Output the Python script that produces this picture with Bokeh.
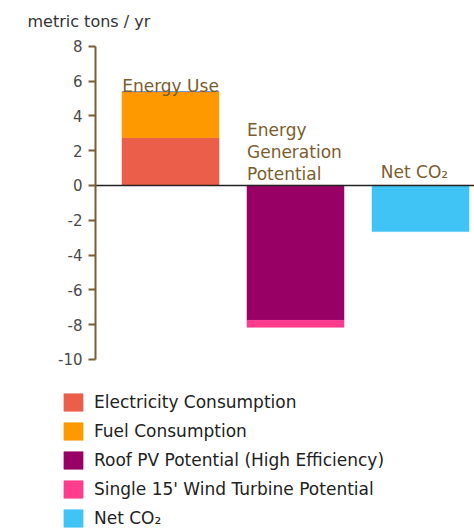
from bokeh.plotting import figure
from bokeh.models import (Range1d, FixedTicker, Legend, LegendItem, Label,
                          ColumnDataSource, PrintfTickFormatter)
from bokeh.core.properties import value
from bokeh.embed import file_html
from bokeh.resources import INLINE

# ---- data ----
groups = ["Energy Use", "Energy\nGeneration\nPotential", "Net CO\u2082"]
group_x = [1, 2, 3]
electricity = [2.75, 0, 0]
fuel = [2.65, 0, 0]
roof_pv = [0, -7.75, 0]
wind = [0, -0.4, 0]
net_co2 = [0, 0, -2.65]
series_names = ["Electricity Consumption", "Fuel Consumption",
                "Roof PV Potential (High Efficiency)",
                "Single 15' Wind Turbine Potential", "Net CO\u2082"]
series_colors = ["#EA5E4A", "#FF9900", "#990066", "#FF3C8E", "#40C4F5"]
y_ticks = [-10, -8, -6, -4, -2, 0, 2, 4, 6, 8]
y_title = "metric tons / yr"

FONT = "DejaVu Sans"
BROWN = "#7B5D2E"
AXIS_X = 0.4

p = figure(width=474, height=530, output_backend="svg", toolbar_location=None,
           x_range=Range1d(-0.36, 3.432), y_range=Range1d(-19.828, 10.632),
           x_axis_location=None, min_border_left=0, min_border_top=0,
           min_border_bottom=0, min_border_right=0)
p.grid.visible = False
p.outline_line_color = None

# stacked bars
bw = 0.776
stack = [electricity, fuel, roof_pv, wind, net_co2]
pos_base = [0.0] * 3
neg_base = [0.0] * 3
renderers = []
for vals, col in zip(stack, series_colors):
    bottoms, tops = [], []
    for i, v in enumerate(vals):
        if v >= 0:
            bottoms.append(pos_base[i]); tops.append(pos_base[i] + v)
            pos_base[i] += v
        else:
            bottoms.append(neg_base[i]); tops.append(neg_base[i] + v)
            neg_base[i] += v
    src = ColumnDataSource(dict(x=group_x, bottom=bottoms, top=tops))
    r = p.vbar(x="x", bottom="bottom", top="top", width=bw, source=src,
               fill_color=col, line_color=col, line_alpha=0.5)
    renderers.append(r)

# zero line from the axis to the right
p.ray(x=[AXIS_X], y=[0], length=0, angle=0, line_color="#222222", line_width=1.5)

# group labels
p.text(x=[group_x[0]], y=[pos_base[0]], text=[groups[0]], text_align="center",
       text_baseline="bottom", text_font=value(FONT), text_font_size="17px",
       text_color=BROWN, y_offset=4)
p.text(x=[group_x[1] - bw / 2], y=[0], text=[groups[1]], text_align="left",
       text_baseline="bottom", text_font=value(FONT), text_font_size="17px",
       text_color=BROWN, text_line_height=1.1, y_offset=-1)
p.text(x=[group_x[2]], y=[0], text=[groups[2]], text_align="center",
       text_baseline="bottom", text_font=value(FONT), text_font_size="17px",
       text_color=BROWN, y_offset=-3, x_offset=-6)

# y axis drawn at a fixed location inside the frame
ax = p.yaxis[0]
ax.fixed_location = AXIS_X
ax.ticker = FixedTicker(ticks=y_ticks)
ax.formatter = PrintfTickFormatter(format="%d")
ax.bounds = (-10, 8)
ax.axis_line_color = BROWN
ax.axis_line_width = 2
ax.major_tick_line_color = BROWN
ax.major_tick_line_width = 2
ax.major_tick_out = 7
ax.major_tick_in = 0
ax.minor_tick_line_color = None
ax.major_label_text_font = FONT
ax.major_label_text_font_size = "15px"
ax.major_label_text_color = "#4a4a4a"
ax.major_label_standoff = 6

p.add_layout(Label(x=AXIS_X - 68 / 125, y=(185 - 21) / 17.4, text=y_title,
                   text_font=FONT, text_font_size="16px", text_color="#333333",
                   text_baseline="alphabetic"))

legend = Legend(items=[LegendItem(label=n, renderers=[r]) for n, r in zip(series_names, renderers)],
                location=(61, 1), orientation="vertical",
                glyph_width=24, glyph_height=22, label_height=22, spacing=7,
                label_standoff=9, padding=0, margin=0,
                border_line_color=None, background_fill_alpha=0,
                label_text_font=FONT, label_text_font_size="17px",
                label_text_color="#222222")
p.add_layout(legend)

open("out.html", "w").write(file_html(p, INLINE))
